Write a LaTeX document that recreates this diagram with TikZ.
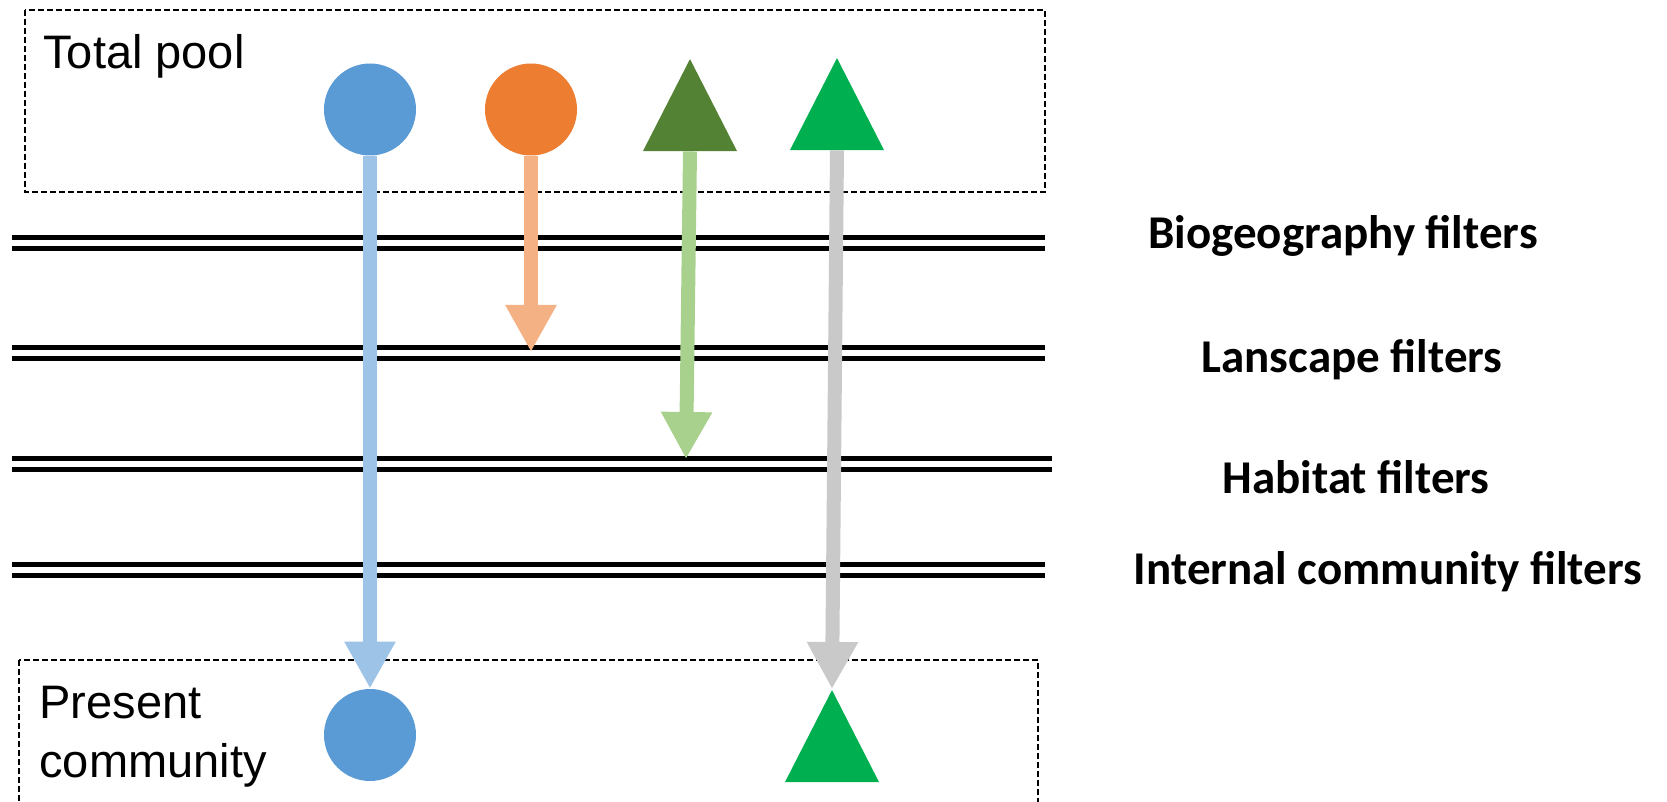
\documentclass[tikz,border=0pt]{standalone}
\usepackage{fontspec}
\setmainfont{Liberation Sans}
\newfontfamily\labelfont{Carlito}
\usetikzlibrary{arrows.meta, positioning, shapes.geometric}
\definecolor{poolblue}{HTML}{5B9BD5}
\definecolor{poolorange}{HTML}{ED7D31}
\definecolor{pooldarkgreen}{HTML}{548235}
\definecolor{poolgreen}{HTML}{00B050}
\definecolor{flowblue}{HTML}{9DC3E6}
\definecolor{floworange}{HTML}{F4B183}
\definecolor{flowgreen}{HTML}{A9D18E}
\definecolor{flowgrey}{HTML}{C9C9C9}

\begin{document}
\begin{tikzpicture}[x=0.5pt,y=-0.5pt]
    \tikzstyle{pool}=[draw=black,line width=0.8pt,dash pattern=on 3pt off 1.5pt]
    \tikzstyle{filter}=[draw=black,double=white,line width=2.5pt,double distance=3pt]
    \tikzstyle{species}=[circle,inner sep=0pt,minimum size=46pt]
    \tikzstyle{tri}=[isosceles triangle,isosceles triangle stretches,shape border rotate=90,inner sep=0pt,minimum width=47pt,minimum height=46pt]
    \tikzstyle{flow}=[line width=7pt,-{Triangle[length=23.5pt,width=24pt]}]
    \tikzstyle{poollabel}=[inner sep=0pt,font=\fontsize{23.5}{29.5}\selectfont]
    \tikzstyle{filterlabel}=[inner sep=0pt,anchor=base,font=\labelfont\bfseries\fontsize{23.5}{28}\selectfont]

    \clip (0,0) rectangle (1667,802);

    % pools
    \draw[pool] (25,10) rectangle (1045,192);
    \draw[pool] (19,660) rectangle (1038,830);
    \node[poollabel,anchor=base west] (total) at (43,69) {Total pool};
    \node[poollabel,anchor=base west,align=left] (present) at (39,777) {Present\\community};

    % filters
    \draw[filter] (12,243) -- (1045,243);
    \draw[filter] (12,353) -- (1045,353);
    \draw[filter] (12,464.5) -- (1052,464.5);
    \draw[filter] (12,570) -- (1045,570);
    \node[filterlabel] (bio) at (1343,249) {Biogeography filters};
    \node[filterlabel] (lan) at (1352,373) {Lanscape filters};
    \node[filterlabel] (hab) at (1356,494) {Habitat filters};
    \node[filterlabel] (int) at (1388,584) {Internal community filters};

    % species
    \node[species,fill=poolblue] (C1) at (370,109.5) {};
    \node[species,fill=poolorange] (C2) at (531,109.5) {};
    \node[tri,fill=pooldarkgreen,anchor=apex] (T1) at (690,58) {};
    \node[tri,fill=poolgreen,anchor=apex] (T2) at (837,57) {};
    \node[species,fill=poolblue] (C3) at (370,735) {};
    \node[tri,fill=poolgreen,anchor=apex] (T3) at (832,689) {};

    \coordinate (E2) at (531,352);
    \coordinate (E3) at (686,459);

    % flows
    \draw[flow,draw=flowblue,fill=flowblue] (C1.south) -- (C3.north);
    \draw[flow,draw=floworange,fill=floworange] (C2.south) -- (E2);
    \draw[flow,draw=flowgreen,fill=flowgreen] (T1.lower side) -- (E3);
    \draw[flow,draw=flowgrey,fill=flowgrey] (T2.lower side) -- (T3.apex);
\end{tikzpicture}
\end{document}
